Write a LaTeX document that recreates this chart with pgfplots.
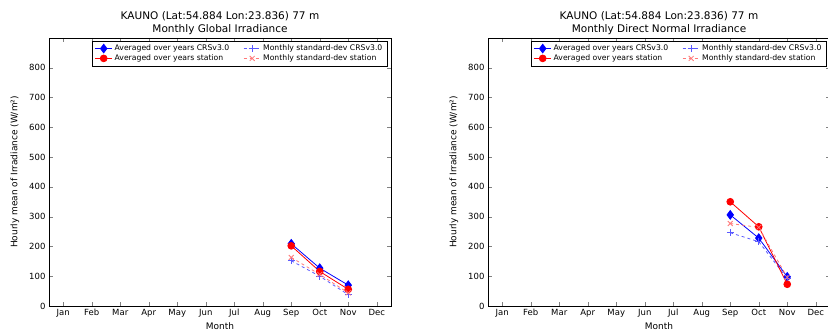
\documentclass[border=0pt]{standalone}
\usepackage{fontspec}
\setmainfont{DejaVu Sans}
\usepackage{pgfplots}
\pgfplotsset{compat=1.18}

\definecolor{stdred}{RGB}{255,120,120}
\definecolor{stdblue}{RGB}{90,90,255}

\pgfplotsset{
  irr/.style={
    scale only axis, width=342pt, height=268pt,
    anchor=south west,
    xmin=0.5, xmax=12.5, ymin=0, ymax=900,
    xtick={1,...,12},
    xticklabels={Jan,Feb,Mar,Apr,May,Jun,Jul,Aug,Sep,Oct,Nov,Dec},
    ytick={0,100,...,800},
    tick pos=both, tick align=inside,
    major tick length=4pt,
    tick label style={font=\fontsize{8.5}{10}\selectfont},
    /pgf/number format/assume math mode=true,
    xlabel={Month},
    ylabel={Hourly mean of Irradiance (W/m²)},
    xlabel style={font=\fontsize{9}{10}\selectfont, at={(axis description cs:0.5,-0.075)}, anchor=center},
    ylabel style={font=\fontsize{9}{10}\selectfont, at={(axis description cs:-0.1,0.5)}, anchor=center},
    title style={font=\fontsize{10.5}{12.5}\selectfont, align=center, at={(axis description cs:0.5,0.977)}, anchor=south},
    legend columns=2,
    legend style={font=\fontsize{7.7}{9}\selectfont, at={(axis description cs:0.99,0.99)}, anchor=north east,
      draw=black, rounded corners=0pt, row sep=-1.5pt, /tikz/every even column/.append style={column sep=12pt}},
    legend cell align=left,
  },
  avgcrs/.style={blue, thick, mark=diamond*, mark size=4.3pt, mark options={solid, fill=blue}},
  avgst/.style={red, thick, mark=*, mark size=3.4pt, mark options={solid, fill=red}},
  stdcrs/.style={stdblue, thick, dashed, mark=+, mark size=3.5pt, mark options={solid}},
  stdst/.style={stdred, thick, dashed, mark=x, mark size=3.5pt, mark options={solid}},
}

\begin{document}
\begin{tikzpicture}[x=1pt,y=1pt]
\useasboundingbox (0,0) rectangle (828,331);

\begin{axis}[irr, at={(49pt,25pt)},
  title={KAUNO (Lat:54.884 Lon:23.836) 77 m\\Monthly Global Irradiance}]
\addplot[avgcrs] coordinates {(9,209) (10,127) (11,70)};
\addlegendentry{Averaged over years CRSv3.0}
\addplot[stdcrs] coordinates {(9,152) (10,100) (11,38)};
\addlegendentry{Monthly standard-dev CRSv3.0}
\addplot[avgst] coordinates {(9,202) (10,116) (11,56)};
\addlegendentry{Averaged over years station}
\addplot[stdst] coordinates {(9,163) (10,106) (11,44)};
\addlegendentry{Monthly standard-dev station}
\end{axis}

\begin{axis}[irr, at={(488pt,25pt)},
  title={KAUNO (Lat:54.884 Lon:23.836) 77 m\\Monthly Direct Normal Irradiance}]
\addplot[avgcrs] coordinates {(9,306) (10,228) (11,98)};
\addlegendentry{Averaged over years CRSv3.0}
\addplot[stdcrs] coordinates {(9,246) (10,216) (11,92)};
\addlegendentry{Monthly standard-dev CRSv3.0}
\addplot[avgst] coordinates {(9,350) (10,266) (11,73)};
\addlegendentry{Averaged over years station}
\addplot[stdst] coordinates {(9,277) (10,264) (11,96)};
\addlegendentry{Monthly standard-dev station}
\end{axis}
\end{tikzpicture}
\end{document}
